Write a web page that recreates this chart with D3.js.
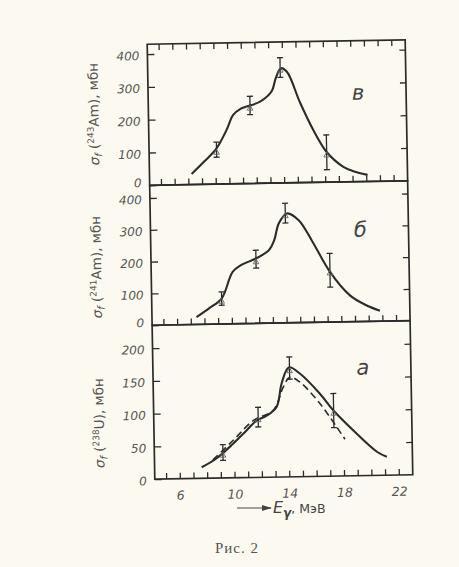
<!DOCTYPE html>
<html>
<head>
<meta charset="utf-8">
<script src="https://cdn.jsdelivr.net/npm/d3@7"></script>
<style>
body { margin: 0; background: #fcfaf0; }
</style>
</head>
<body>
<div id="chart"></div>
<script>
// photon energy ticks, MeV
var xTicks = [6, 10, 14, 18, 22];
var xMinor = d3.range(5, 23);

// panel в : 243Am
var am243E = [7.25, 8.2, 9.1, 9.86, 10.36, 10.9, 11.36, 12.34, 13.2, 13.5, 13.9, 14.35, 15.25, 16.19, 17.14, 18.34, 19.2, 20.1];
var am243S = [32, 70, 109, 165, 210, 228, 235, 249, 280, 318, 350, 338, 245, 160, 92, 46, 30, 20];
var am243PtE = [9.1, 11.6, 13.85, 17.14];
var am243PtS = [105, 238, 352, 91];
var am243PtErr = [23, 28, 30, 53];

// panel б : 241Am
var am241E = [7.42, 8.35, 9.28, 10.12, 10.74, 11.84, 12.81, 13.2, 13.55, 14.16, 15.01, 16.0, 17.23, 18.66, 19.8, 20.83];
var am241S = [23, 50, 80, 163, 184, 204, 230, 261, 313, 344, 322, 253, 158, 83, 52, 33];
var am241PtE = [9.28, 11.84, 14.04, 17.23];
var am241PtS = [80, 202, 345, 163];
var am241PtErr = [21, 28, 31, 53];

// panel а : 238U (solid and dashed curves)
var u238E = [7.61, 8.69, 9.93, 10.93, 11.69, 12.42, 13.16, 13.56, 14.1, 14.92, 16.34, 17.31, 18.74, 20.43, 21.15];
var u238S = [17, 30, 52, 72, 87, 94, 107, 143, 167, 157, 126, 100, 69, 36, 28];
var u238DashE = [8.44, 9.93, 11.45, 12.91, 13.67, 14.17, 14.91, 16.33, 17.52, 18.11];
var u238DashS = [28, 57, 87, 102, 137, 152, 144, 111, 75, 56];
var u238PtE = [9.18, 11.8, 14.15, 17.32];
var u238PtS = [39, 92, 166, 100];
var u238PtErr = [12, 15, 17, 26];

var yTicksAm = [0, 100, 200, 300, 400];
var yTicksU = [0, 50, 100, 150, 200];

var W = 459, H = 567;
var left = 151, right = 409;
var ink = "#2b2b2b", grey = "#555";

var svg = d3.select("#chart").append("svg")
    .attr("width", W)
    .attr("height", H)
    .style("background", "#fcfaf0");

// the scanned page is a little turned
var g = svg.append("g").attr("transform", "rotate(-1,280,260)");

var x = d3.scaleLinear().domain([4.17, 23.02]).range([left, right]);

var panels = [
    {top: 42, bottom: 183, max: 430, ticks: yTicksAm, letter: "в", letterY: 94, labelY: 111, iso: "243", el: "Am",
     curves: [{e: am243E, s: am243S, dash: null}], pe: am243PtE, ps: am243PtS, perr: am243PtErr},
    {top: 183, bottom: 323, max: 440, ticks: yTicksAm, letter: "б", letterY: 231, labelY: 264, iso: "241", el: "Am",
     curves: [{e: am241E, s: am241S, dash: null}], pe: am241PtE, ps: am241PtS, perr: am241PtErr},
    {top: 323, bottom: 477, max: 235, ticks: yTicksU, letter: "а", letterY: 369, labelY: 420, iso: "238", el: "U",
     curves: [{e: u238E, s: u238S, dash: null}, {e: u238DashE, s: u238DashS, dash: "7,4"}],
     pe: u238PtE, ps: u238PtS, perr: u238PtErr}
];

function styleText(sel, size) {
    sel.attr("font-family", "DejaVu Sans, sans-serif")
        .attr("font-size", size)
        .attr("font-style", "italic")
        .attr("fill", grey)
        .attr("stroke", "none");
}

panels.forEach(function(p, pi) {
    var y = d3.scaleLinear().domain([0, p.max]).range([p.bottom, p.top]);

    // left axis with inward ticks
    var ax = g.append("g")
        .attr("transform", "translate(" + left + ",0)")
        .call(d3.axisLeft(y).tickValues(p.ticks).tickSize(-7).tickPadding(8));
    ax.select(".domain").remove();
    ax.selectAll("line").attr("stroke", ink).attr("stroke-width", 1.3);
    styleText(ax.selectAll("text"), 12);
    ax.selectAll("text").attr("dy", function(d) {
        // zero labels sit just above the shared border
        return (d == 0 && pi < 2) ? "0.1em" : "0.45em";
    });

    // right side ticks
    var ar = g.append("g")
        .attr("transform", "translate(" + right + ",0)")
        .call(d3.axisRight(y).tickValues(p.ticks.slice(1)).tickSize(-6).tickFormat(""));
    ar.select(".domain").remove();
    ar.selectAll("line").attr("stroke", ink).attr("stroke-width", 1.3);

    // bottom minor ticks, labels only under the last panel
    var ab = g.append("g")
        .attr("transform", "translate(0," + p.bottom + ")")
        .call(d3.axisBottom(x).tickValues(xMinor).tickSize(-6).tickPadding(12)
            .tickFormat(function(d) {
                return (pi == 2 && xTicks.indexOf(d) >= 0) ? d : "";
            }));
    ab.select(".domain").remove();
    ab.selectAll("line").attr("stroke", ink).attr("stroke-width", 1.3);
    styleText(ab.selectAll("text"), 12.5);

    if (pi == 0) {
        var at = g.append("g")
            .attr("transform", "translate(0," + p.top + ")")
            .call(d3.axisTop(x).tickValues(xMinor).tickSize(-6).tickFormat(""));
        at.select(".domain").remove();
        at.selectAll("line").attr("stroke", ink).attr("stroke-width", 1.3);
    }

    // frame
    g.append("rect")
        .attr("x", left).attr("y", p.top)
        .attr("width", right - left).attr("height", p.bottom - p.top)
        .attr("fill", "none")
        .attr("stroke", ink)
        .attr("stroke-width", 1.7);

    // curves
    var line = d3.line()
        .x(function(d) { return x(d[0]); })
        .y(function(d) { return y(d[1]); })
        .curve(d3.curveCatmullRom.alpha(0.5));
    p.curves.forEach(function(c) {
        g.append("path")
            .datum(d3.zip(c.e, c.s))
            .attr("d", line)
            .attr("fill", "none")
            .attr("stroke", ink)
            .attr("stroke-width", c.dash ? 1.6 : 2.1)
            .attr("stroke-dasharray", c.dash);
    });

    // error bars with caps and small triangles
    var pts = d3.zip(p.pe, p.ps, p.perr);
    var eb = g.append("g").selectAll("g").data(pts).enter().append("g");
    eb.append("line")
        .attr("x1", function(d) { return x(d[0]); })
        .attr("x2", function(d) { return x(d[0]); })
        .attr("y1", function(d) { return y(d[1] - d[2]); })
        .attr("y2", function(d) { return y(d[1] + d[2]); })
        .attr("stroke", ink).attr("stroke-width", 1.3);
    [-1, 1].forEach(function(sgn) {
        eb.append("line")
            .attr("x1", function(d) { return x(d[0]) - 3; })
            .attr("x2", function(d) { return x(d[0]) + 3; })
            .attr("y1", function(d) { return y(d[1] + sgn * d[2]); })
            .attr("y2", function(d) { return y(d[1] + sgn * d[2]); })
            .attr("stroke", ink).attr("stroke-width", 1.3);
    });
    eb.append("path")
        .attr("d", d3.symbol(d3.symbolTriangle, 14))
        .attr("transform", function(d) { return "translate(" + x(d[0]) + "," + (y(d[1]) + 3) + ")"; })
        .attr("fill", "none")
        .attr("stroke", "#666")
        .attr("stroke-width", 0.9);

    // panel letter
    var lt = g.append("text")
        .attr("x", 361).attr("y", p.letterY)
        .attr("text-anchor", "middle")
        .attr("dominant-baseline", "central")
        .text(p.letter);
    styleText(lt, 21);
    lt.attr("fill", "#444");

    // y label, rotated
    var yl = g.append("text")
        .attr("transform", "translate(101," + p.labelY + ") rotate(-90)")
        .attr("text-anchor", "middle")
        .attr("font-family", "DejaVu Sans, sans-serif")
        .attr("font-size", 13.5)
        .attr("fill", grey);
    yl.append("tspan").attr("font-style", "italic").text("σ");
    yl.append("tspan").attr("font-style", "italic").attr("font-size", 10).attr("dy", 3).text("f");
    yl.append("tspan").attr("dy", -3).text(" (");
    yl.append("tspan").attr("font-size", 9).attr("dy", -5).text(p.iso);
    yl.append("tspan").attr("dy", 5).text(p.el + "), мбн");
});

// x axis caption
var arrowY = 508;
svg.append("defs").append("marker")
    .attr("id", "ah").attr("viewBox", "0 0 10 6")
    .attr("refX", 9).attr("refY", 3)
    .attr("markerWidth", 10).attr("markerHeight", 6)
    .attr("markerUnits", "userSpaceOnUse")
    .attr("orient", "auto")
    .append("path").attr("d", "M0,0L10,3L0,6Z").attr("fill", "#444");
svg.append("line")
    .attr("x1", 237).attr("x2", 271)
    .attr("y1", arrowY).attr("y2", arrowY)
    .attr("stroke", "#444").attr("stroke-width", 1.2)
    .attr("marker-end", "url(#ah)");
var xl = svg.append("text")
    .attr("x", 273).attr("y", arrowY + 5)
    .attr("font-family", "DejaVu Sans, sans-serif")
    .attr("fill", "#444");
xl.append("tspan").attr("font-style", "italic").attr("font-size", 16).text("E");
xl.append("tspan").attr("font-style", "italic").attr("font-weight", "bold").attr("font-size", 12).attr("dy", 4).text("γ");
xl.append("tspan").attr("font-size", 12.5).attr("dy", -4).text(", МэВ");

// figure caption
svg.append("text")
    .attr("x", 237).attr("y", 553)
    .attr("text-anchor", "middle")
    .attr("font-family", "Liberation Serif, DejaVu Serif, serif")
    .attr("font-size", 15)
    .attr("letter-spacing", 1)
    .attr("fill", "#555")
    .text("Рис. 2");
</script>
</body>
</html>
